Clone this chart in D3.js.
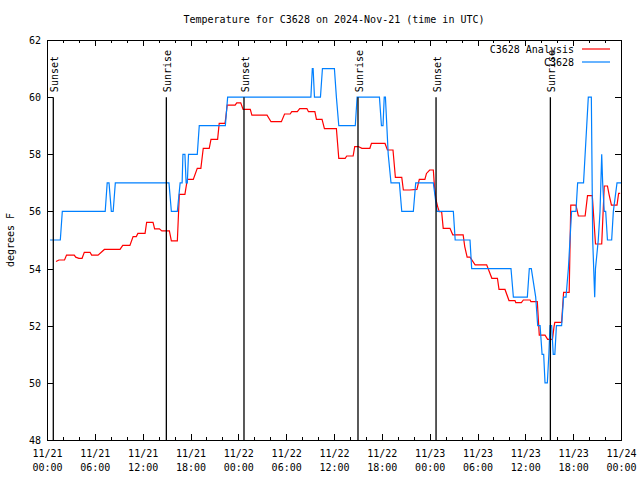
<!DOCTYPE html>
<html><head><meta charset="utf-8">
<script src="https://cdn.jsdelivr.net/npm/d3@7"></script>
<style>
body{margin:0;background:#fff}
svg{display:block}
text{font-family:"DejaVu Sans Mono","Liberation Mono",monospace;font-size:10px;fill:#000}
</style>
</head><body><svg id="chart" width="640" height="480"></svg>
<script>
// ---- data (hours since 2024-11-21 00:00 UTC) ----
const titleText = "Temperature for C3628 on 2024-Nov-21 (time in UTC)";
const yLabel = "degrees F";
const seriesNames = ["C3628 Analysis", "C3628"];
const seriesColors = ["#ff0000", "#0080ff"];

const analysisHours = [1.13,1.5,2.2,2.45,3.42,3.6,4.0,4.4,4.68,5.4,5.6,6.4,7.2,9.16,9.5,10.4,10.8,11.2,11.4,12.3,12.5,13.3,13.5,14.1,14.4,15.35,15.6,16.35,16.6,17.3,17.6,18.35,18.85,19.3,19.6,20.35,20.57,21.4,21.6,22.33,22.45,22.6,23.6,23.8,24.3,24.6,25.5,25.7,27.6,28.1,29.4,29.8,30.5,30.7,31.4,31.7,32.6,32.8,33.6,33.8,34.5,34.8,36.3,36.6,37.4,37.6,38.4,38.6,39.05,39.5,40.5,40.7,42.4,42.7,43.4,43.7,44.5,44.7,45.5,46.4,46.7,47.4,47.6,48.0,48.46,48.6,48.8,49.0,49.2,49.5,49.7,50.55,50.9,52.2,52.4,52.7,53.06,53.7,55.15,55.8,56.5,56.7,57.45,57.95,58.7,58.8,59.5,59.75,60.6,60.7,61.5,61.75,62.47,62.8,63.4,63.6,63.7,64.55,64.8,65.5,65.7,66.35,66.65,67.5,67.8,68.4,68.8,69.58,69.9,70.3,70.5,70.8,71.5,71.7,71.9];
const analysisTemps = [54.25,54.3,54.3,54.47,54.47,54.4,54.36,54.36,54.57,54.57,54.47,54.47,54.67,54.67,54.81,54.81,55.12,55.12,55.23,55.23,55.62,55.62,55.39,55.39,55.32,55.32,54.97,54.97,56.6,56.6,57.12,57.12,57.51,57.51,58.21,58.21,58.52,58.52,59.08,59.08,59.34,59.72,59.72,59.8,59.8,59.57,59.57,59.37,59.37,59.14,59.14,59.41,59.41,59.49,59.49,59.6,59.6,59.49,59.49,59.22,59.22,58.9,58.9,57.86,57.86,57.94,57.94,58.27,58.27,58.21,58.21,58.38,58.38,58.15,58.15,57.19,57.19,56.75,56.75,56.77,57.12,57.12,57.33,57.45,57.45,56.87,56.4,56.17,55.99,55.99,55.41,55.41,55.18,55.18,54.77,54.4,54.4,54.13,54.13,53.66,53.66,53.27,53.27,52.88,52.88,52.81,52.81,52.9,52.9,52.84,52.84,51.67,51.67,51.52,51.52,51.97,52.12,52.12,53.17,53.17,56.22,56.22,55.84,55.84,56.55,56.55,54.86,54.86,56.89,56.89,56.6,56.22,56.22,56.63,56.63];

const obsHours = [0.38,1.67,1.92,7.3,7.55,7.78,8.07,8.3,8.57,15.3,15.6,16.35,16.7,16.95,17.05,17.3,17.45,17.6,17.75,18.85,19.1,22.37,22.66,33.1,33.28,33.38,33.55,34.3,34.55,36.05,36.3,36.6,38.67,38.9,41.7,41.95,42.15,42.3,42.45,42.8,43.15,44.2,44.5,45.95,46.25,48.46,48.92,50.97,51.2,53.06,53.27,58.2,58.5,60.25,60.5,60.75,61.3,61.55,61.85,62.1,62.3,62.47,62.76,62.95,63.1,63.3,63.5,63.7,63.9,64.55,64.8,65.1,65.4,65.6,65.8,66.35,66.56,67.3,67.5,67.7,67.9,68.28,68.45,68.7,68.8,69.15,69.37,69.58,69.7,69.9,70.08,70.3,70.83,71.04,71.5,72.0];
const obsTemps = [55,55,56,56,57,57,56,56,57,57,56,56,57,57,58,58,57,57,58,58,59,59,60,60,61,61,60,60,61,61,60,59,59,60,60,59,59,60,60,58,57,57,56,56,57,57,56,56,55,55,54,54,53,53,54,54,53,52,52,51,51,50,50,51,52,52,51,51,52,52,53,53,54,55,56,56,57,57,58,59,60,60,55,53,54,55,56,58,57,56,56,55,55,56,57,57];

const sunEventLabels = ["Sunset","Sunrise","Sunset","Sunrise","Sunset","Sunrise"];
const sunEventHours = [0.79,14.97,24.71,39.01,48.8,63.14];
const yTicks = [48,50,52,54,56,58,60,62];
const yDomain = [48, 62];
const xStart = Date.UTC(2024,10,21,0,0);
const xEnd = Date.UTC(2024,10,24,0,0);

// ---- drawing ----
const W = 640, H = 480;
const m = {left:47, right:19, top:40, bottom:40};
const svg = d3.select("#chart");
const hr = h => new Date(xStart + h*3600000);

const x = d3.scaleUtc().domain([new Date(xStart), new Date(xEnd)]).range([m.left, W-m.right]);
const y = d3.scaleLinear().domain(yDomain).range([H-m.bottom, m.top]);

const majorX = d3.utcHour.every(6).range(new Date(xStart), new Date(xEnd+1));
const minorX = d3.utcHour.every(2).range(new Date(xStart), new Date(xEnd+1)).filter(d => d.getUTCHours()%6 !== 0);

// minor ticks
svg.append("g").attr("transform",`translate(0,${H-m.bottom})`)
  .call(d3.axisBottom(x).tickValues(minorX).tickSize(-3).tickFormat(""))
  .call(g=>g.select(".domain").remove());
svg.append("g").attr("transform",`translate(0,${m.top})`)
  .call(d3.axisTop(x).tickValues(minorX).tickSize(-3).tickFormat(""))
  .call(g=>g.select(".domain").remove());

// major x ticks
const fmtDate = d3.utcFormat("%m/%d"), fmtTime = d3.utcFormat("%H:%M");
const bx = svg.append("g").attr("transform",`translate(0,${H-m.bottom})`)
  .call(d3.axisBottom(x).tickValues(majorX).tickSize(-6).tickFormat(""))
  .call(g=>g.select(".domain").remove());
bx.selectAll(".tick").append("text").attr("text-anchor","middle").attr("fill","#000")
  .each(function(d){
    const t = d3.select(this);
    t.append("tspan").attr("x",0).attr("y",17).text(fmtDate(d));
    t.append("tspan").attr("x",0).attr("y",31).text(fmtTime(d));
  });
svg.append("g").attr("transform",`translate(0,${m.top})`)
  .call(d3.axisTop(x).tickValues(majorX).tickSize(-6).tickFormat(""))
  .call(g=>g.select(".domain").remove());

// y ticks
svg.append("g").attr("transform",`translate(${m.left},0)`)
  .call(d3.axisLeft(y).tickValues(yTicks).tickSize(-6).tickPadding(6).tickFormat(d3.format("d")))
  .call(g=>g.select(".domain").remove())
  .call(g=>g.selectAll("text").style("font-size","10px").attr("dy","0.35em"));
svg.append("g").attr("transform",`translate(${W-m.right},0)`)
  .call(d3.axisRight(y).tickValues(yTicks).tickSize(-6).tickFormat(""))
  .call(g=>g.select(".domain").remove());

svg.selectAll(".tick line").attr("stroke","#000").attr("shape-rendering","crispEdges");
svg.selectAll("g").attr("font-family",null).attr("font-size",null);

// data lines
const line = d3.line().x(d=>x(hr(d[0]))).y(d=>y(d[1]));
const series = [d3.zip(analysisHours, analysisTemps), d3.zip(obsHours, obsTemps)];
series.forEach((s,i)=>{
  svg.append("path").datum(s).attr("d",line).attr("fill","none")
    .attr("stroke",seriesColors[i]).attr("stroke-width",1.2);
});

// sunrise / sunset markers
sunEventHours.forEach((h,i)=>{
  const xx = x(hr(h));
  svg.append("line").attr("x1",xx).attr("x2",xx).attr("y1",y(60)).attr("y2",y(48))
    .attr("stroke","#000").attr("stroke-width",1.3);
  svg.append("text").attr("transform",`translate(${xx+5},${y(60)-5}) rotate(-90)`)
    .attr("text-anchor","start").text(sunEventLabels[i]);
});

// frame
svg.append("rect").attr("x",m.left+0.5).attr("y",m.top+0.5)
  .attr("width",W-m.left-m.right-1+1).attr("height",H-m.top-m.bottom)
  .attr("fill","none").attr("stroke","#000").attr("shape-rendering","crispEdges");

// title & labels
svg.append("text").attr("x",(m.left+W-m.right)/2).attr("y",23).attr("text-anchor","middle").text(titleText);
svg.append("text").attr("transform",`translate(14,${(m.top+H-m.bottom)/2}) rotate(-90)`)
  .attr("text-anchor","middle").text(yLabel);

// legend
seriesNames.forEach((n,i)=>{
  const ly = 49 + i*13;
  svg.append("text").attr("x",574).attr("y",ly).attr("dy","0.35em").attr("text-anchor","end").text(n);
  svg.append("line").attr("x1",582).attr("x2",610).attr("y1",ly).attr("y2",ly)
    .attr("stroke",seriesColors[i]).attr("stroke-width",1.2);
});
</script></body></html>
